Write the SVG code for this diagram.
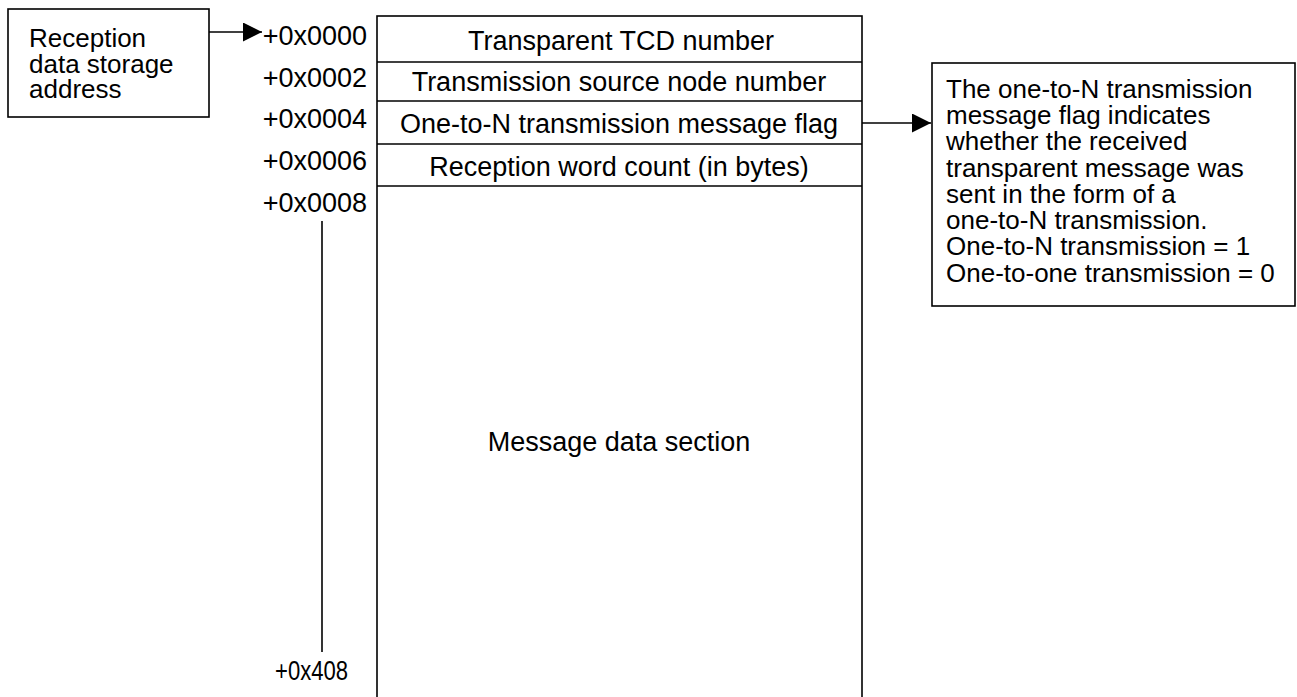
<svg xmlns="http://www.w3.org/2000/svg" width="1297" height="697" viewBox="0 0 1297 697">
<style>
text{font-family:"Liberation Sans",Arial,sans-serif;fill:#000}
.t{font-size:27px}
.c{text-anchor:middle}
.r{text-anchor:end}
.box{fill:#fff;stroke:#000;stroke-width:1.6}
.ln{stroke:#000;stroke-width:1.6;fill:none}
.n{font-size:26px}
</style>
<defs>
<marker id="ah" markerWidth="20" markerHeight="20" refX="19" refY="9.5" orient="auto" markerUnits="userSpaceOnUse">
<path d="M0,0 L19,9.5 L0,19 Z" fill="#000"/>
</marker>
</defs>
<rect width="1297" height="697" fill="#fff"/>
<g id="label-box">
<rect class="box" x="8" y="9" width="201" height="108"/>
<text class="n"><tspan x="29" y="47">Reception</tspan><tspan x="29" y="73">data storage</tspan><tspan x="29" y="98">address</tspan></text>
</g>
<g id="table">
<rect class="box" x="377" y="16" width="485" height="700"/>
<line class="ln" x1="377" y1="62" x2="862" y2="62"/>
<line class="ln" x1="377" y1="101" x2="862" y2="101"/>
<line class="ln" x1="377" y1="144" x2="862" y2="144"/>
<line class="ln" x1="377" y1="186" x2="862" y2="186"/>
<text class="t c" x="621" y="50">Transparent TCD number</text>
<text class="t c" x="619" y="91">Transmission source node number</text>
<text class="t c" x="619" y="133">One-to-N transmission message flag</text>
<text class="t c" x="619" y="176">Reception word count (in bytes)</text>
<text class="t c" x="619" y="451">Message data section</text>
</g>
<g id="offsets">
<text class="t r" x="367" y="45">+0x0000</text>
<text class="t r" x="367" y="87">+0x0002</text>
<text class="t r" x="367" y="128">+0x0004</text>
<text class="t r" x="367" y="170">+0x0006</text>
<text class="t r" x="367" y="212">+0x0008</text>
<text x="275" y="680" font-size="28" textLength="73" lengthAdjust="spacingAndGlyphs">+0x408</text>
</g>
<g id="note-box">
<rect class="box" x="932" y="63" width="363" height="243"/>
<text class="n"><tspan x="946" y="98">The one-to-N transmission</tspan><tspan x="946" y="124">message flag indicates</tspan><tspan x="946" y="150">whether the received</tspan><tspan x="946" y="177">transparent message was</tspan><tspan x="946" y="203">sent in the form of a</tspan><tspan x="946" y="229">one-to-N transmission.</tspan><tspan x="946" y="255">One-to-N transmission = 1</tspan><tspan x="946" y="282">One-to-one transmission = 0</tspan></text>
</g>
<g id="connectors">
<line class="ln" x1="209" y1="32" x2="262" y2="32" marker-end="url(#ah)"/>
<line class="ln" x1="862" y1="123" x2="931" y2="123" marker-end="url(#ah)"/>
<line class="ln" x1="322" y1="221" x2="322" y2="652"/>
</g>
</svg>
